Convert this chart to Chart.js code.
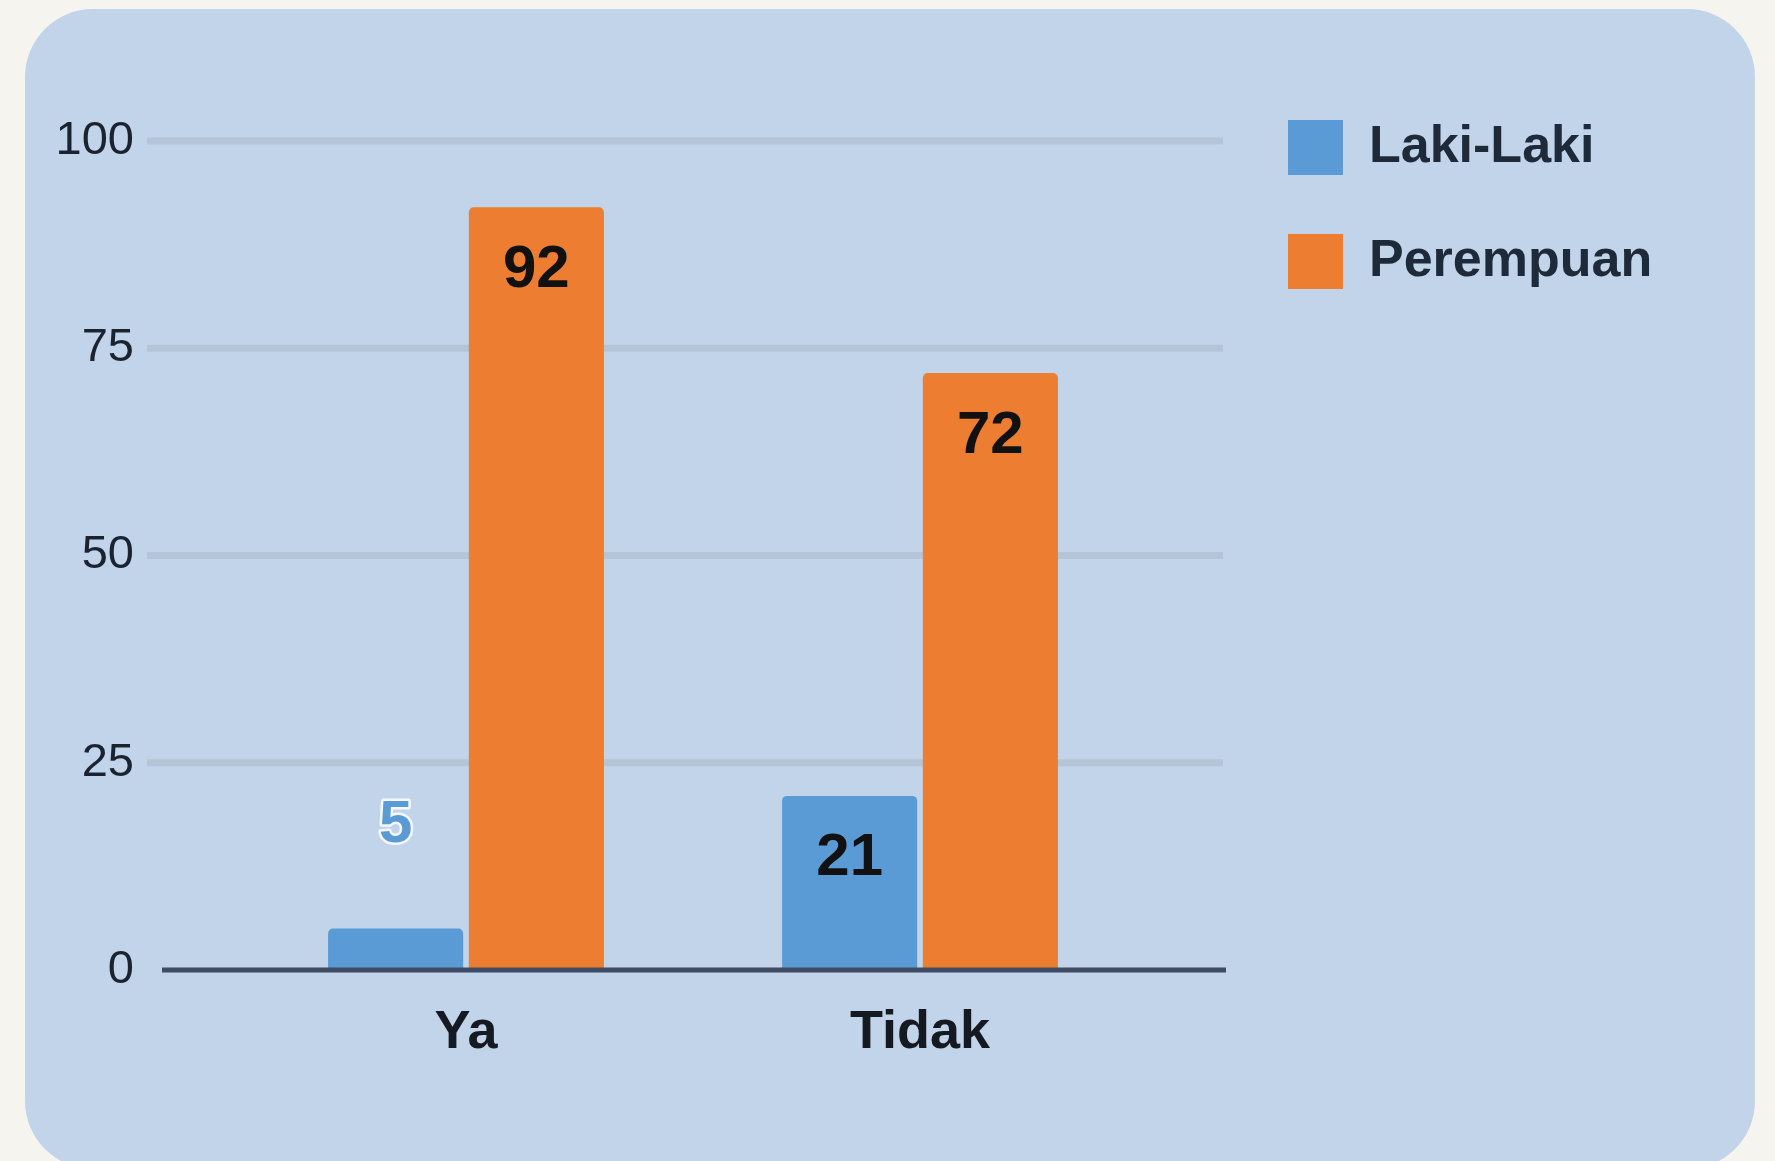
<!DOCTYPE html>
<html>
<head>
<meta charset="utf-8">
<title>Ya / Tidak</title>
<script src="https://cdn.jsdelivr.net/npm/chart.js@4.4.1/dist/chart.umd.min.js"></script>
<style>
    html, body {
        margin: 0;
        padding: 0;
        width: 1775px;
        height: 1161px;
        overflow: hidden;
        background: #f6f4ef;
    }
    #panel {
        position: absolute;
        left: 25px;
        top: 9px;
        width: 1730px;
        height: 1160px;
        border-radius: 68px;
        background: #c2d4ea;
    }
    #chart {
        position: absolute;
        left: 0;
        top: 0;
    }
</style>
</head>
<body>
<div id="panel">
    <canvas id="chart" width="1730" height="1150"></canvas>
</div>
<script>
// data
const categories = ['Ya', 'Tidak'];
const lakiLaki = [5, 21];
const perempuan = [92, 72];
const yTicks = [0, 25, 50, 75, 100];

const blue = '#5b9bd5';
const orange = '#ed7d31';

// garis grid yang lebih panjang dari area chart
const gridPlugin = {
    id: 'gridPlugin',
    beforeDatasetsDraw(chart) {
        const ctx = chart.ctx;
        const area = chart.chartArea;
        const yScale = chart.scales.y;
        ctx.save();
        ctx.strokeStyle = 'rgba(172, 186, 204, 0.6)';
        ctx.lineWidth = 7;
        yTicks.forEach(t => {
            if (t === 0) return;
            const y = yScale.getPixelForValue(t);
            ctx.beginPath();
            ctx.moveTo(area.left - 92, y);
            ctx.lineTo(area.right + 76, y);
            ctx.stroke();
        });
        ctx.restore();
    },
    afterDatasetsDraw(chart) {
        const ctx = chart.ctx;
        const area = chart.chartArea;
        const y0 = chart.scales.y.getPixelForValue(0);
        ctx.save();
        ctx.strokeStyle = '#3e4b63';
        ctx.lineWidth = 5;
        ctx.beginPath();
        ctx.moveTo(area.left - 77, y0);
        ctx.lineTo(area.right + 79, y0);
        ctx.stroke();
        ctx.restore();
    }
};

// label angka di batang
const valueLabels = {
    id: 'valueLabels',
    afterDatasetsDraw(chart) {
        const ctx = chart.ctx;
        ctx.save();
        ctx.font = 'bold 60px "Liberation Sans", Arial, sans-serif';
        ctx.textAlign = 'center';
        ctx.textBaseline = 'middle';
        chart.data.datasets.forEach((ds, i) => {
            const meta = chart.getDatasetMeta(i);
            meta.data.forEach((bar, j) => {
                const text = String(ds.data[j]);
                const h = bar.base - bar.y;
                if (h < 100) {
                    const y = bar.y - 103;
                    ctx.lineJoin = 'round';
                    ctx.lineWidth = 5;
                    ctx.strokeStyle = '#f4f8fc';
                    ctx.strokeText(text, bar.x, y);
                    ctx.fillStyle = ds.backgroundColor;
                    ctx.fillText(text, bar.x, y);
                } else {
                    ctx.fillStyle = '#111111';
                    ctx.fillText(text, bar.x, bar.y + 63);
                }
            });
        });
        ctx.restore();
    }
};

const ctx = document.getElementById('chart').getContext('2d');
const myChart = new Chart(ctx, {
    type: 'bar',
    data: {
        labels: categories,
        datasets: [
            {
                label: 'Laki-Laki',
                data: lakiLaki,
                backgroundColor: blue,
                borderRadius: { topLeft: 5, topRight: 5 },
                borderSkipped: 'start',
                xAxisID: 'x',
                yAxisID: 'y'
            },
            {
                label: 'Perempuan',
                data: perempuan,
                backgroundColor: orange,
                borderRadius: { topLeft: 5, topRight: 5 },
                borderSkipped: 'start',
                xAxisID: 'x',
                yAxisID: 'y'
            }
        ]
    },
    options: {
        responsive: false,
        animation: false,
        categoryPercentage: 0.62,
        barPercentage: 0.96,
        layout: {
            padding: { top: 52, right: 101, bottom: 0, left: 0 }
        },
        plugins: {
            tooltip: { enabled: false },
            legend: {
                position: 'right',
                align: 'start',
                maxWidth: 425,
                labels: {
                    boxWidth: 55,
                    boxHeight: 55,
                    padding: 59,
                    color: '#1e2a3a',
                    font: { family: '"Liberation Sans", Arial, sans-serif', size: 52, weight: 'bold' }
                }
            }
        },
        scales: {
            x: {
                type: 'category',
                position: 'bottom',
                offset: true,
                grid: { display: false },
                border: { display: false },
                ticks: {
                    padding: 23,
                    color: '#151a22',
                    font: { family: '"Liberation Sans", Arial, sans-serif', size: 54, weight: 'bold' }
                },
                afterFit(scale) { scale.height = 189; }
            },
            y: {
                type: 'linear',
                position: 'left',
                min: 0,
                max: 100,
                grid: { display: false },
                border: { display: false },
                ticks: {
                    stepSize: 25,
                    padding: 97,
                    color: '#1b2331',
                    font: { family: '"Liberation Sans", Arial, sans-serif', size: 47 }
                },
                afterFit(scale) { scale.width = 214; }
            },
            xTop: {
                type: 'linear',
                axis: 'x',
                position: 'top',
                grid: { display: false },
                border: { display: false },
                ticks: { display: false },
                afterFit(scale) { scale.height = 80; }
            },
            yRight: {
                type: 'linear',
                axis: 'y',
                position: 'right',
                grid: { display: false },
                border: { display: false },
                ticks: { display: false },
                afterFit(scale) { scale.width = 82; }
            }
        }
    },
    plugins: [gridPlugin, valueLabels]
});
</script>
</body>
</html>
